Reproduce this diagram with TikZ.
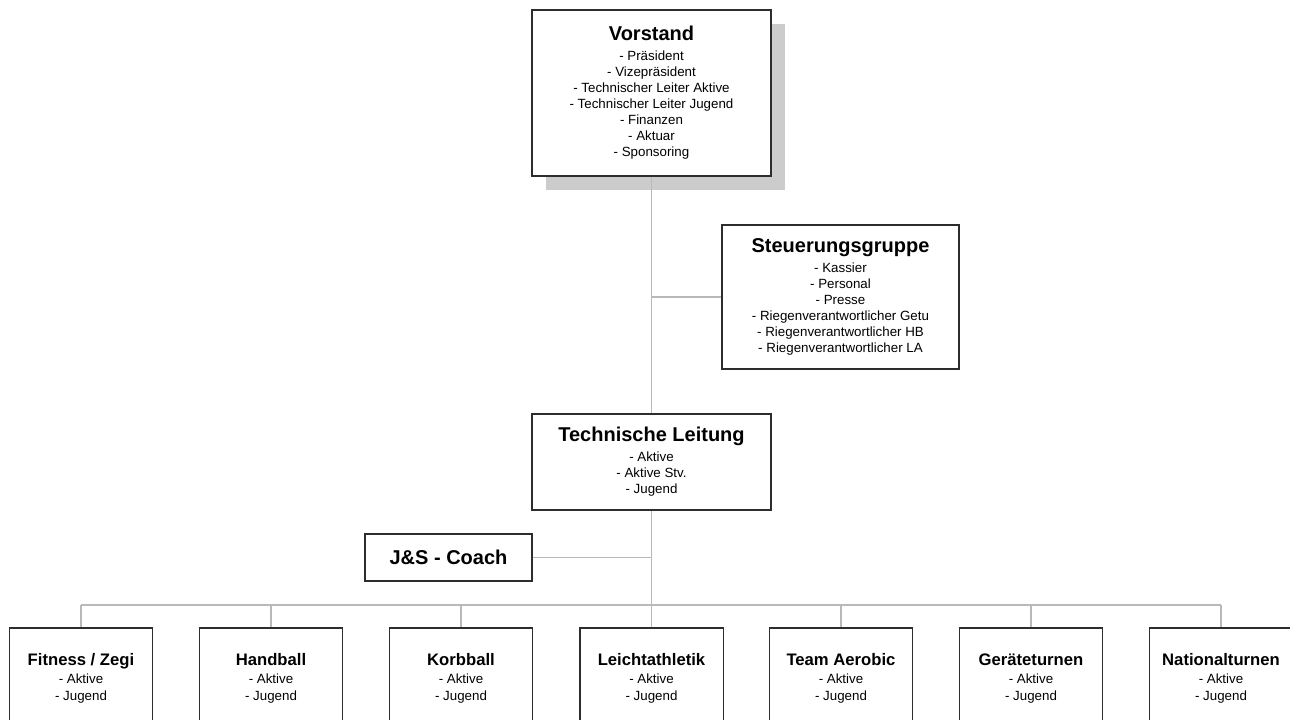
\documentclass[tikz,border=0pt]{standalone}
\usepackage{fontspec}
\setmainfont{Liberation Sans}
\usepackage{xcolor}
\usepackage{tikz}
\usetikzlibrary{shadows}
\definecolor{lgray}{RGB}{185, 185, 185}
\definecolor{sgray}{RGB}{204, 204, 204}
\definecolor{dgray}{RGB}{45, 45, 45}
\newcommand{\unittitle}[1]{{\fontsize{15}{18}\selectfont\bfseries #1}}
\newcommand{\teamtitle}[1]{{\fontsize{12.5}{14}\selectfont\bfseries\vphantom{Äg}#1}}

\begin{document}
\begin{tikzpicture}[x = 0.75pt, y = -0.75pt,
			unit/.style = {draw = dgray, line width = 1.1pt, fill = white, align = center, inner sep = 0pt, font = \fontsize{10}{12}\selectfont},
			team/.style = {unit, minimum width = 107.6pt, minimum height = 73.5pt, font = \fontsize{10}{12.75}\selectfont},
			link/.style = {draw = lgray, line width = 0.8pt}]
			\clip (0,0) rectangle (1290,720);
			\node (vorstand) at (651.5,93) [unit, minimum width = 179.2pt, minimum height = 124.5pt,
				drop shadow = {shadow xshift = 10.5pt, shadow yshift = -10.5pt, fill = sgray, opacity = 1}]
				{\unittitle{Vorstand}\\[3pt] - Präsident\\ - Vizepräsident\\ - Technischer Leiter Aktive\\ - Technischer Leiter Jugend\\ - Finanzen\\ - Aktuar\\ - Sponsoring};
			\node (steuer) at (840.5,297) [unit, minimum width = 177.8pt, minimum height = 108pt]
				{\unittitle{Steuerungsgruppe}\\[3pt] - Kassier\\ - Personal\\ - Presse\\ - Riegenverantwortlicher Getu\\ - Riegenverantwortlicher HB\\ - Riegenverantwortlicher LA};
			\node (leitung) at (651.5,462) [unit, minimum width = 179.2pt, minimum height = 72pt]
				{\unittitle{Technische Leitung}\\[3pt] - Aktive\\ - Aktive Stv.\\ - Jugend};
			\node (coach) at (448.5,557.5) [unit, minimum width = 125.2pt, minimum height = 35.2pt] {\unittitle{J\&S - Coach}};
			\node (fitness) at (81,677) [team] {\teamtitle{Fitness / Zegi}\\[0.75pt] - Aktive\\ - Jugend};
			\node (handball) at (271,677) [team] {\teamtitle{Handball}\\[0.75pt] - Aktive\\ - Jugend};
			\node (korbball) at (461,677) [team] {\teamtitle{Korbball}\\[0.75pt] - Aktive\\ - Jugend};
			\node (leicht) at (651.5,677) [team] {\teamtitle{Leichtathletik}\\[0.75pt] - Aktive\\ - Jugend};
			\node (aerobic) at (841,677) [team] {\teamtitle{Team Aerobic}\\[0.75pt] - Aktive\\ - Jugend};
			\node (geraete) at (1031,677) [team] {\teamtitle{Geräteturnen}\\[0.75pt] - Aktive\\ - Jugend};
			\node (national) at (1221,677) [team] {\teamtitle{Nationalturnen}\\[0.75pt] - Aktive\\ - Jugend};
			\coordinate (bus) at (651.5,605);
			\draw [link] (vorstand.south) -- (leitung.north);
			\draw [link] (vorstand.south |- steuer.west) -- (steuer.west);
			\draw [link] (leitung.south) -- (bus);
			\draw [link] (coach.east) -- (coach.east -| leitung.south);
			\draw [link] (fitness.north |- bus) -- (national.north |- bus);
			\draw [link] (fitness.north) -- (fitness.north |- bus);
			\draw [link] (handball.north) -- (handball.north |- bus);
			\draw [link] (korbball.north) -- (korbball.north |- bus);
			\draw [link] (leicht.north) -- (leicht.north |- bus);
			\draw [link] (aerobic.north) -- (aerobic.north |- bus);
			\draw [link] (geraete.north) -- (geraete.north |- bus);
			\draw [link] (national.north) -- (national.north |- bus);
\end{tikzpicture}
\end{document}
